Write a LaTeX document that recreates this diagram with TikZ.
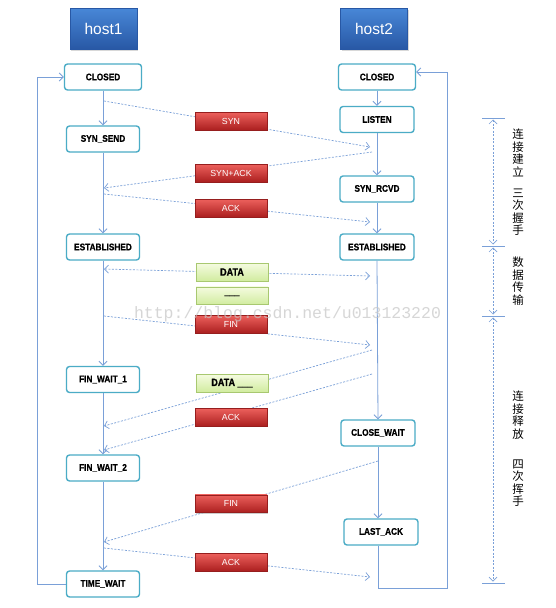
\documentclass[tikz,border=0pt]{standalone}
\usepackage{fontspec}
\setmainfont{Liberation Sans}
\newfontfamily\statefont[FakeStretch=0.86,FakeBold=0.8]{Liberation Sans}
\newfontfamily\cjk{Noto Sans CJK SC}
\newfontfamily\wmfont{Liberation Mono}
\usetikzlibrary{arrows.meta,shadows}
\definecolor{linec}{RGB}{122,160,216}
\definecolor{statec}{RGB}{75,172,198}
\definecolor{hosttop}{RGB}{72,135,215}
\definecolor{hostbot}{RGB}{40,88,165}
\definecolor{redtop}{RGB}{236,96,92}
\definecolor{redbot}{RGB}{172,32,32}
\definecolor{redb}{RGB}{150,30,30}
\definecolor{greentop}{RGB}{244,251,224}
\definecolor{greenbot}{RGB}{210,236,160}
\definecolor{greenb}{RGB}{168,200,112}
\tikzset{
  statebox/.style={draw=statec, line width=1.4pt, rounded corners=3pt, fill=white,
    minimum height=26pt, minimum width=73pt, inner sep=0pt,
    font=\statefont\bfseries\fontsize{9.6}{10}\selectfont},
  hostbox/.style={top color=hosttop, bottom color=hostbot, draw=hostbot, line width=0.4pt,
    minimum width=67pt, minimum height=41pt, inner sep=0pt, text=white,
    font=\fontsize{15.5}{17}\selectfont,
    drop shadow={shadow xshift=1pt, shadow yshift=-1.5pt, opacity=0.3}},
  redlbl/.style={top color=redtop, bottom color=redbot, draw=redb, line width=0.3pt,
    minimum width=72pt, minimum height=17.5pt, inner sep=0pt, text=white,
    font=\fontsize{8.8}{10}\selectfont,
    drop shadow={shadow xshift=1pt, shadow yshift=-1.5pt, opacity=0.4}},
  greenlbl/.style={top color=greentop, bottom color=greenbot, draw=greenb, line width=0.5pt,
    minimum width=72pt, minimum height=17.5pt, inner sep=0pt, text=black,
    font=\statefont\bfseries\fontsize{10.5}{11}\selectfont},
  flow/.style={draw=linec, line width=0.8pt, -{Straight Barb[length=4pt,width=8pt]}},
  plainline/.style={draw=linec, line width=0.8pt},
  msg/.style={draw=linec, line width=0.7pt, dash pattern=on 2pt off 1.5pt,
    -{Straight Barb[length=4pt,width=8pt]}},
  span/.style={draw=linec, line width=0.7pt, dash pattern=on 2pt off 1.5pt,
    {Straight Barb[length=4pt,width=8pt]}-{Straight Barb[length=4pt,width=8pt]},
    shorten <=1.5pt, shorten >=1.5pt},
  vtext/.style={align=center, inner sep=0pt, font=\cjk\fontsize{11.5}{12.5}\selectfont},
}
\begin{document}
\begin{tikzpicture}[x=1pt,y=-1pt]
\useasboundingbox[fill=white] (0,0) rectangle (556,608);

% hosts
\node[hostbox] (h1) at (103.5,28.5) {host1};
\node[hostbox] (h2) at (374,28.5) {host2};

% host1 states
\node[statebox, minimum width=77pt] (lclosed) at (103,77) {CLOSED};
\node[statebox] (lsyn) at (103,139) {SYN\_SEND};
\node[statebox] (lest) at (103,247) {ESTABLISHED};
\node[statebox] (lfw1) at (103,379.5) {FIN\_WAIT\_1};
\node[statebox] (lfw2) at (103,468) {FIN\_WAIT\_2};
\node[statebox] (ltw) at (103,584) {TIME\_WAIT};

% host2 states
\node[statebox, minimum width=77pt] (rclosed) at (377,77) {CLOSED};
\node[statebox, minimum width=74pt] (rlisten) at (377,119.5) {LISTEN};
\node[statebox, minimum width=74pt] (rsyn) at (377,189) {SYN\_RCVD};
\node[statebox, minimum width=74pt] (rest) at (377,247) {ESTABLISHED};
\node[statebox, minimum width=74pt] (rcw) at (378,433) {CLOSE\_WAIT};
\node[statebox, minimum width=74pt] (rla) at (381,532) {LAST\_ACK};

% host1 vertical flow
\draw[flow] (lclosed.south) -- (lsyn.north);
\draw[flow] (lsyn.south) -- (lest.north);
\draw[flow] (lest.south) -- (lfw1.north);
\draw[flow] (lfw1.south) -- (lfw2.north);
\draw[flow] (lfw2.south) -- (ltw.north);
\draw[flow] (ltw.west) -- ++(-28.5,0) |- (lclosed.west);

% host2 vertical flow
\draw[flow] (rclosed.south) -- (rlisten.north);
\draw[flow] (rlisten.south) -- (rsyn.north);
\draw[flow] (rsyn.south) -- (rest.north);
\draw[flow] (rest.south) -- (rcw.north);
\draw[flow] (rcw.south) -- (rcw.south |- rla.north);
\coordinate (rbot) at (447,588);
\coordinate (rtop) at (447,72);
\draw[flow] (rla.south -| rcw.south) |- (rbot) -- (rtop) -- (rtop -| rclosed.east);

% message end points
\coordinate (m1a) at (104,101);  \coordinate (m1b) at (370,147);
\coordinate (m2a) at (372,152);  \coordinate (m2b) at (104,188);
\coordinate (m3a) at (104,194);  \coordinate (m3b) at (370,222);
\coordinate (m4a) at (104,269);  \coordinate (m4b) at (370,276);
\coordinate (m5a) at (104,316);  \coordinate (m5b) at (370,345);
\coordinate (m6a) at (372,350);  \coordinate (m6b) at (104,426);
\coordinate (m7a) at (372,374);  \coordinate (m7b) at (104,450);
\coordinate (m8a) at (378,461);  \coordinate (m8b) at (104,542);
\coordinate (m9a) at (104,548);  \coordinate (m9b) at (370,577);

\draw[msg] (m1a) -- (m1b);
\draw[msg] (m2a) -- (m2b);
\draw[msg] (m3a) -- (m3b);
\draw[msg, {Straight Barb[length=4pt,width=8pt]}-{Straight Barb[length=4pt,width=8pt]}] (m4a) -- (m4b);
\draw[msg] (m5a) -- (m5b);
\draw[msg] (m6a) -- (m6b);
\draw[msg] (m7a) -- (m7b);
\draw[msg] (m8a) -- (m8b);
\draw[msg] (m9a) -- (m9b);

% message labels
\node[redlbl] (l1) at (231,121) {SYN};
\node[redlbl] (l2) at (231,173) {SYN+ACK};
\node[redlbl] (l3) at (231,208) {ACK};
\node[greenlbl] (l4) at (232,272) {DATA};
\node[greenlbl] (l5) at (232,295.5) {\_\_\_};
\node[redlbl] (l6) at (231,324) {FIN};
\node[greenlbl] (l7) at (232,383) {DATA \_\_\_};
\node[redlbl] (l8) at (231,417) {ACK};
\node[redlbl] (l9) at (231,503.5) {FIN};
\node[redlbl] (l10) at (231,562) {ACK};

% phase marks
\coordinate (t1) at (482,118);
\coordinate (t2) at (482,246);
\coordinate (t3) at (482,316);
\coordinate (t4) at (482,583);
\foreach \t in {t1,t2,t3,t4} \draw[plainline] (\t) -- ++(23,0);
\coordinate (s1) at (493,118);
\coordinate (s2) at (493,246);
\coordinate (s3) at (493,316);
\coordinate (s4) at (493,583);
\draw[span] (s1) -- (s2);
\draw[span] (s2) -- (s3);
\draw[span] (s3) -- (s4);

\node[vtext] (p1) at (518,153) {连\\接\\建\\立};
\node[vtext] (p2) at (518,212) {三\\次\\握\\手};
\node[vtext] (p3) at (518,281) {数\\据\\传\\输};
\node[vtext] (p4) at (518,415) {连\\接\\释\\放};
\node[vtext] (p5) at (518,483) {四\\次\\挥\\手};

% watermark
\node[text=gray!45, opacity=0.7, inner sep=0pt, font=\wmfont\fontsize{16.5}{18}\selectfont] (wm) at (287.5,314) {http://blog.csdn.net/u013123220};
\end{tikzpicture}
\end{document}
